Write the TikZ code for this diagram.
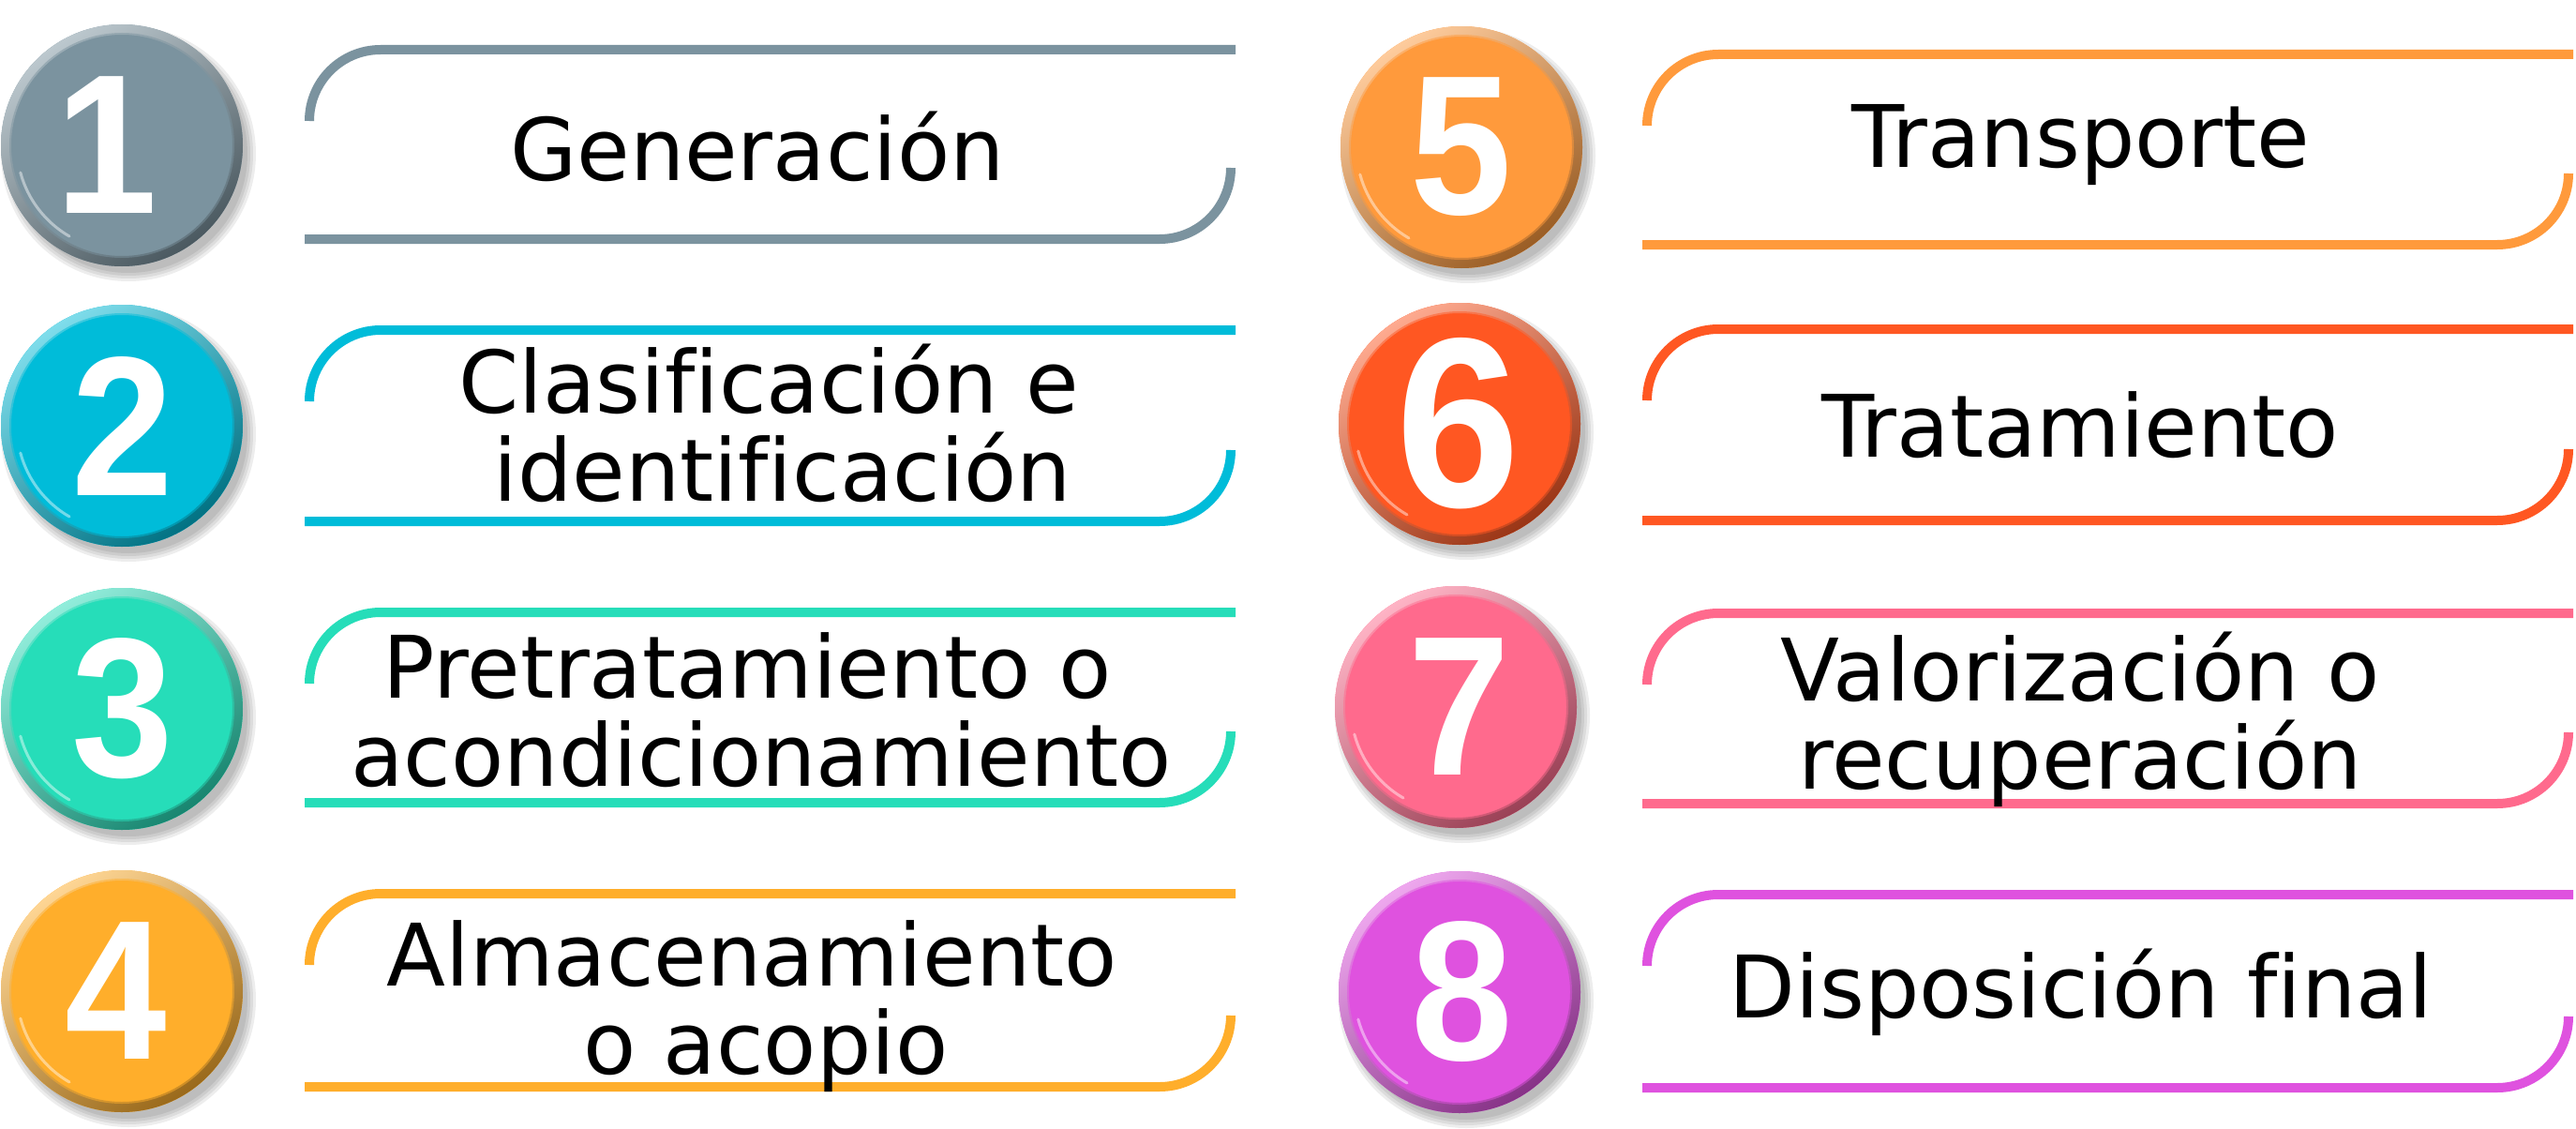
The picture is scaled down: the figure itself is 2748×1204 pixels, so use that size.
\documentclass[tikz,border=0pt]{standalone}
\usepackage{fontspec}
\setmainfont{DejaVu Sans}[Ligatures=CommonOff]
\newfontfamily\numfont{Liberation Sans}[UprightFont={* Bold}]
\definecolor{cA}{HTML}{7B939F}
\definecolor{cB}{HTML}{00BCD9}
\definecolor{cC}{HTML}{26DDB9}
\definecolor{cD}{HTML}{FFAE2B}
\definecolor{cE}{HTML}{FF9A3C}
\definecolor{cF}{HTML}{FF5722}
\definecolor{cG}{HTML}{FF6A8D}
\definecolor{cH}{HTML}{DF52DF}
\tikzset{
  bracketline/.style={line width=5pt},
  stagelabel/.style={font=\fontsize{46}{47}\selectfont, align=center, inner sep=0pt, anchor=base, text=black},
  digit/.style={text=white, inner sep=0pt, anchor=center, xscale=0.92},
  badge/.style={circle, inner sep=0pt, minimum size=129pt, draw=none},
}
\newcommand\stagebracket[5]{% color, xL, xR, yT, yB
  \draw[bracketline, #1] ({#2},{#4+76}) .. controls +(0,-42) and +(-42,0) .. ({#2+76},{#4}) -- ({#3+5},{#4});
  \draw[bracketline, #1] ({#2-5},{#5}) -- ({#3-76},{#5}) .. controls +(42,0) and +(0,42) .. ({#3},{#5-76});
}
\newcommand\stagebadge[7]{% name, color, x, y, digit, dx, size
  \foreach \s in {0,3,6,9}{\fill[black, opacity=0.07] ({#3+7},{#4+9}) circle[radius={127+\s}];}
  \node[badge, fill=#2] (#1) at (#3,#4) {};
  \begin{scope}
    \clip (#1.center) circle[radius=129];
    \shade[top color=#2!50!white, bottom color=#2!60!black, shading angle=35, even odd rule]
      (#1.center) circle[radius=131] (#1.center) circle[radius=118];
    \fill[#2, opacity=0.5] (#1.center) circle[radius=120];
  \end{scope}
  \draw[white, opacity=0.45, line width=1.5pt, line cap=round]
    ([shift={(120:112)}]#1.center) arc[start angle=120, end angle=165, radius=112];
  \node[digit, font=\numfont\fontsize{#7}{#7}\selectfont] (#1d) at ({#3+#6},{#4}) {#5};
}
\begin{document}
\begin{tikzpicture}[x=0.5pt, y=-0.5pt]
\useasboundingbox (0,0) rectangle (2748,1204);
\fill[white] (0,0) rectangle (2748,1204);

% brackets left column
\stagebracket{cA}{330}{1313}{53}{255}
\stagebracket{cB}{330}{1313}{352}{556}
\stagebracket{cC}{330}{1313}{653}{856}
\stagebracket{cD}{330}{1313}{953}{1159}
% brackets right column
\stagebracket{cE}{1757}{2740}{58}{261}
\stagebracket{cF}{1757}{2740}{351}{555}
\stagebracket{cG}{1757}{2740}{654}{857}
\stagebracket{cH}{1757}{2740}{954}{1160}

% badges
\stagebadge{n1}{cA}{130}{155}{1}{-16}{106}
\stagebadge{n2}{cB}{130}{454}{2}{1}{106}
\stagebadge{n3}{cC}{130}{756}{3}{1}{106}
\stagebadge{n4}{cD}{130}{1057}{4}{-6}{106}
\stagebadge{n5}{cE}{1559}{157}{5}{0}{106}
\stagebadge{n6}{cF}{1557}{452}{6}{-2}{129}
\stagebadge{n7}{cG}{1553}{754}{7}{4}{106}
\stagebadge{n8}{cH}{1557}{1058}{8}{3}{106}

% labels
\node[stagelabel] (t1) at (808,192) {Generación};
\node[stagelabel] (t2) at (835,534) {Clasificación e\rule{0.32em}{0pt}\\identificación};
\node[stagelabel] (t3) at (812,838) {Pretratamiento o\rule{0.32em}{0pt}\\acondicionamiento};
\node[stagelabel] (t4) at (817,1145) {Almacenamiento\rule{0.32em}{0pt}\\o acopio};
\node[stagelabel] (t5) at (2220,178) {Transporte};
\node[stagelabel] (t6) at (2219,487) {Tratamiento};
\node[stagelabel] (t7) at (2219,841) {Valorización o\\recuperación};
\node[stagelabel] (t8) at (2220,1085) {Disposición final};
\end{tikzpicture}
\end{document}
